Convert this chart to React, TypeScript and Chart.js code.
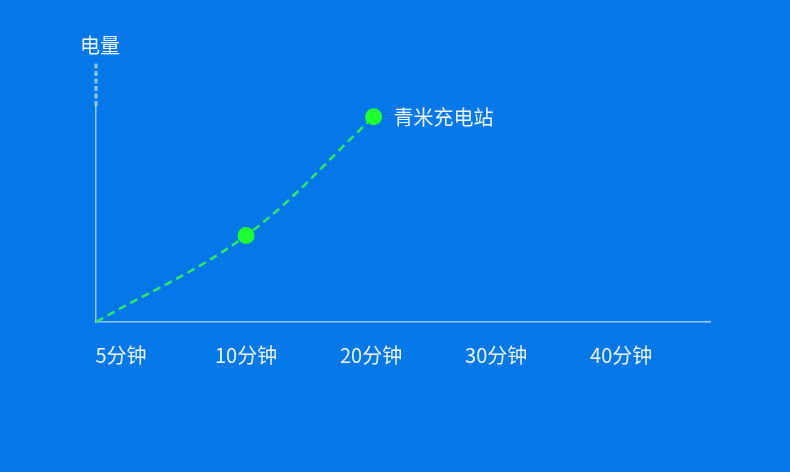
import { useEffect, useRef } from "react";
import { Chart, registerables } from "chart.js";

// x axis ticks (positions on a linear scale) and their labels
const tickPositions = [1, 2, 3, 4, 5];
const timeLabels = ["5分钟", "10分钟", "20分钟", "30分钟", "40分钟"];

// charge curve
const chargeX = [0.8, 2, 3.02];
const chargeY = [0, 40, 95];
const pointLabels = ["", "", "青米充电站"];

const yTitle = "电量";

const FONT = "'Noto Sans CJK SC', 'Noto Sans', sans-serif";
const TEXT = "#EEF4FF";
const AXIS = "rgba(165,208,255,0.9)";

const overlayPlugin = {
  id: "overlay",
  afterDatasetsDraw(chart: any) {
    const { ctx, chartArea } = chart;
    const y = chart.scales.y;
    ctx.save();
    // dashed extension above the y axis
    ctx.strokeStyle = "rgba(190,220,255,0.8)";
    ctx.lineWidth = 3;
    ctx.setLineDash([5, 2.5]);
    ctx.beginPath();
    ctx.moveTo(chartArea.left, y.top);
    ctx.lineTo(chartArea.left, y.top - 44);
    ctx.stroke();
    ctx.setLineDash([]);

    // y axis title
    ctx.fillStyle = TEXT;
    ctx.font = `20px ${FONT}`;
    ctx.textAlign = "left";
    ctx.textBaseline = "middle";
    ctx.fillText(yTitle, chartArea.left - 16, y.top - 61);

    // point labels
    const meta = chart.getDatasetMeta(0);
    meta.data.forEach((pt: any, i: number) => {
      const label = pointLabels[i];
      if (!label) return;
      ctx.fillText(label, pt.x + 20, pt.y + 1);
    });
    ctx.restore();
  },
};

export default function App() {
  const canvasRef = useRef<HTMLCanvasElement>(null);

  useEffect(() => {
    Chart.register(...registerables);
    const ctx = canvasRef.current!.getContext("2d")!;

    const chart = new Chart(ctx, {
      type: "line",
      data: {
        datasets: [
          {
            data: chargeX.map((x, i) => ({ x, y: chargeY[i] })),
            borderColor: "#30E862",
            borderWidth: 2.5,
            borderDash: [8, 5],
            tension: 0.35,
            pointRadius: chargeY.map((_, i) => (i === 0 ? 0 : 8.5)),
            pointBackgroundColor: "#1EFF30",
            pointBorderWidth: 0,
            clip: false as any,
          },
        ],
      },
      options: {
        responsive: false,
        animation: false,
        events: [],
        layout: { padding: { left: 96, right: 80, top: 106, bottom: 90 } },
        plugins: {
          legend: { display: false },
          tooltip: { enabled: false },
        },
        scales: {
          x: {
            type: "linear",
            min: 0.8,
            max: 5.71,
            grid: { display: false, drawTicks: false },
            border: { display: true, color: AXIS, width: 1.5 },
            afterBuildTicks: (scale: any) => {
              scale.ticks = tickPositions.map((v) => ({ value: v }));
            },
            afterFit: (scale: any) => {
              scale.height = 60;
            },
            ticks: {
              color: TEXT,
              font: { family: FONT, size: 20 },
              padding: 21,
              maxRotation: 0,
              autoSkip: false,
              callback: (v: any) => timeLabels[tickPositions.indexOf(Number(v))] ?? "",
            },
          },
          y: {
            min: 0,
            max: 100,
            grid: { display: false, drawTicks: false },
            border: { display: true, color: AXIS, width: 1.5 },
            ticks: { display: false },
            afterFit: (scale: any) => {
              scale.width = 0;
            },
          },
        },
      },
      plugins: [overlayPlugin],
    });

    return () => {
      chart.destroy();
    };
  }, []);

  return (
    <div
      style={{
        position: "fixed",
        left: 0,
        top: 0,
        width: 790,
        height: 472,
        background: "#0478E8",
      }}
    >
      <canvas ref={canvasRef} width={790} height={472} style={{ width: 790, height: 472 }} />
    </div>
  );
}
